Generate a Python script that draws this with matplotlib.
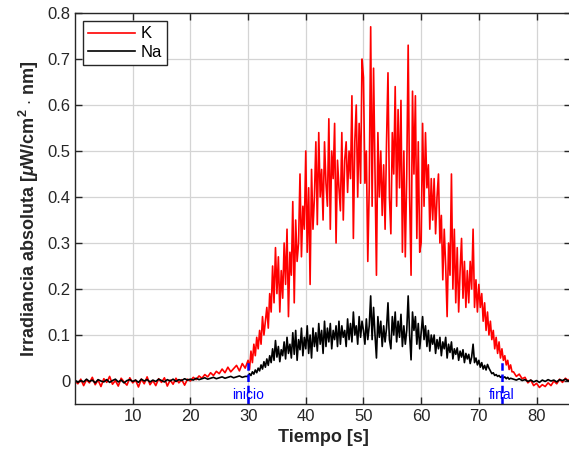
import matplotlib
matplotlib.use("Agg")
import matplotlib.pyplot as plt
import numpy as np

# tiempos de muestreo [s]: 0.5 s fuera del evento, 0.25 s durante el evento
t_pre = np.arange(0, 30, 0.5)
t_evt = np.arange(30, 76, 0.25)
t_post = np.arange(76, 86.01, 0.5)
tiempo = np.concatenate([t_pre, t_evt, t_post])

# irradiancia K [uW/cm^2 nm]
k_pre = [0.000, -0.006, 0.004, -0.010, 0.003, -0.004, 0.008, -0.008, 0.002, -0.012,
         0.005, -0.003, 0.010, -0.007, 0.001, -0.011, 0.006, -0.002, -0.009, 0.007,
         -0.004, 0.002, -0.013, 0.004, -0.006, 0.009, -0.008, 0.001, -0.010, 0.005,
         -0.003, 0.007, -0.011, 0.002, -0.007, 0.006, -0.004, 0.003, -0.009, 0.004,
         0.000, 0.008, 0.003, 0.011, 0.006, 0.014, 0.009, 0.018, 0.012, 0.021,
         0.016, 0.026, 0.018, 0.030, 0.020, 0.027, 0.034, 0.022, 0.038, 0.028]
k_evt = [0.045, 0.025, 0.065, 0.040, 0.080, 0.055, 0.095, 0.070,
         0.110, 0.080, 0.140, 0.100, 0.130, 0.160, 0.115, 0.190,
         0.150, 0.250, 0.170, 0.290, 0.190, 0.270, 0.150, 0.240,
         0.180, 0.300, 0.210, 0.330, 0.140, 0.280, 0.230, 0.390,
         0.170, 0.350, 0.260, 0.300, 0.450, 0.270, 0.380, 0.330,
         0.500, 0.280, 0.420, 0.210, 0.460, 0.330, 0.400, 0.520,
         0.340, 0.540, 0.400, 0.460, 0.350, 0.520, 0.430, 0.380,
         0.570, 0.330, 0.500, 0.440, 0.560, 0.300, 0.480, 0.420,
         0.370, 0.540, 0.350, 0.480, 0.520, 0.410, 0.500, 0.440,
         0.620, 0.310, 0.520, 0.600, 0.400, 0.560, 0.430, 0.700,
         0.660, 0.430, 0.500, 0.260, 0.420, 0.770, 0.380, 0.680,
         0.450, 0.230, 0.540, 0.400, 0.500, 0.360, 0.470, 0.330,
         0.520, 0.670, 0.400, 0.320, 0.540, 0.450, 0.640, 0.380,
         0.590, 0.420, 0.610, 0.280, 0.500, 0.270, 0.450, 0.730,
         0.400, 0.230, 0.630, 0.450, 0.620, 0.310, 0.520, 0.280,
         0.300, 0.560, 0.380, 0.540, 0.420, 0.470, 0.330, 0.440,
         0.350, 0.440, 0.320, 0.400, 0.450, 0.300, 0.360, 0.220,
         0.330, 0.250, 0.140, 0.300, 0.230, 0.450, 0.200, 0.330,
         0.170, 0.290, 0.150, 0.240, 0.310, 0.180, 0.260, 0.160,
         0.240, 0.170, 0.260, 0.200, 0.330, 0.160, 0.220, 0.150,
         0.210, 0.160, 0.190, 0.130, 0.170, 0.110, 0.150, 0.100,
         0.130, 0.090, 0.110, 0.070, 0.095, 0.060, 0.085, 0.050,
         0.070, 0.045, 0.055, 0.035, 0.045, 0.025, 0.035, 0.020]
k_post = [0.020, 0.010, 0.015, 0.005, 0.008, -0.004, 0.002, -0.010, -0.005, -0.014,
          -0.008, -0.012, -0.004, -0.010, 0.000, -0.006, 0.004, -0.003, 0.006, 0.001,
          0.008]

# irradiancia Na
na_pre = [0.002, -0.003, 0.001, -0.002, 0.004, -0.001, 0.002, -0.004, 0.003, 0.000,
          -0.002, 0.003, -0.003, 0.001, 0.004, -0.002, 0.002, -0.004, 0.001, 0.003,
          -0.001, 0.002, -0.003, 0.004, 0.000, 0.003, -0.002, 0.002, -0.001, 0.004,
          0.001, -0.002, 0.003, 0.000, 0.004, -0.001, 0.003, 0.001, 0.005, 0.002,
          0.004, 0.002, 0.006, 0.003, 0.005, 0.007, 0.004, 0.006, 0.008, 0.005,
          0.007, 0.009, 0.006, 0.008, 0.010, 0.007, 0.009, 0.011, 0.008, 0.010]
na_evt = [0.010, 0.016, 0.012, 0.020, 0.015, 0.024, 0.018, 0.028,
          0.022, 0.035, 0.026, 0.042, 0.030, 0.048, 0.034, 0.055,
          0.040, 0.070, 0.045, 0.088, 0.052, 0.075, 0.042, 0.068,
          0.055, 0.085, 0.048, 0.095, 0.060, 0.080, 0.050, 0.105,
          0.058, 0.110, 0.045, 0.090, 0.068, 0.115, 0.055, 0.095,
          0.070, 0.120, 0.060, 0.100, 0.050, 0.115, 0.075, 0.105,
          0.065, 0.125, 0.080, 0.110, 0.060, 0.130, 0.075, 0.115,
          0.085, 0.125, 0.070, 0.110, 0.090, 0.120, 0.075, 0.130,
          0.080, 0.120, 0.095, 0.110, 0.075, 0.135, 0.090, 0.125,
          0.085, 0.150, 0.100, 0.120, 0.080, 0.140, 0.095, 0.130,
          0.110, 0.080, 0.135, 0.090, 0.120, 0.185, 0.090, 0.160,
          0.100, 0.050, 0.140, 0.095, 0.130, 0.075, 0.120, 0.085,
          0.115, 0.170, 0.090, 0.070, 0.140, 0.100, 0.150, 0.085,
          0.130, 0.095, 0.145, 0.075, 0.120, 0.080, 0.110, 0.185,
          0.100, 0.046, 0.150, 0.110, 0.140, 0.080, 0.125, 0.070,
          0.105, 0.140, 0.090, 0.120, 0.075, 0.110, 0.065, 0.100,
          0.080, 0.100, 0.060, 0.090, 0.070, 0.095, 0.055, 0.085,
          0.070, 0.095, 0.050, 0.080, 0.062, 0.085, 0.048, 0.070,
          0.058, 0.072, 0.045, 0.065, 0.052, 0.068, 0.040, 0.060,
          0.048, 0.058, 0.038, 0.052, 0.080, 0.040, 0.050, 0.035,
          0.045, 0.030, 0.040, 0.026, 0.034, 0.024, 0.036, 0.028,
          0.022, 0.016, 0.018, 0.012, 0.014, 0.010, 0.012, 0.008,
          0.010, 0.007, 0.009, 0.005, 0.008, 0.004, 0.006, 0.005]
na_post = [0.004, 0.002, 0.005, 0.001, 0.003, -0.001, 0.002, -0.002, 0.001, -0.003,
           0.002, -0.001, 0.003, 0.000, 0.002, -0.002, 0.003, 0.001, 0.004, 0.000,
           0.002]

# marcas de inicio / final del evento
marcas_t = [30, 74]
marcas_txt = ["inicio", "final"]

irr_k = np.array(k_pre + k_evt + k_post)
irr_na = np.array(na_pre + na_evt + na_post)

plt.rcParams["font.family"] = ["Liberation Sans", "DejaVu Sans"]
plt.rcParams["mathtext.fontset"] = "custom"
plt.rcParams["mathtext.rm"] = "Liberation Sans:bold"
plt.rcParams["mathtext.it"] = "Liberation Sans:italic:bold"
plt.rcParams["mathtext.bf"] = "Liberation Sans:bold"

gris = "#262626"
fig = plt.figure(figsize=(5.69, 4.63), dpi=100)
ax = fig.add_axes([0.1318, 0.1274, 0.872, 0.8445])

ax.plot(tiempo, irr_k, color="#ff0000", lw=1.2, label="K")
ax.plot(tiempo, irr_na, color="black", lw=1.2, label="Na")

for tm, txt in zip(marcas_t, marcas_txt):
    ax.plot([tm, tm], [-0.05, 0.045], color="#0000ff", lw=1.8, ls=(0, (3, 1.5)))
    ax.text(tm, -0.03, txt, color="#0000ff", fontsize=10, ha="center", va="center")

ax.set_xlim(0, 86)
ax.set_ylim(-0.05, 0.8)
ax.set_xticks(np.arange(10, 81, 10))
ax.set_yticks(np.arange(0, 0.81, 0.1))
ax.set_yticklabels(["0", "0.1", "0.2", "0.3", "0.4", "0.5", "0.6", "0.7", "0.8"])
ax.grid(True, color="#d4d4d4", lw=0.9)
ax.set_axisbelow(True)
ax.tick_params(direction="in", top=True, right=True, labelsize=12, colors=gris,
               length=5, width=1)
for s in ax.spines.values():
    s.set_color(gris)
    s.set_linewidth(1.0)

ax.set_xlabel("Tiempo [s]", fontsize=13, fontweight="bold", color=gris, labelpad=4)
ax.set_ylabel(r"Irradiancia absoluta [$\mu$W/cm$^2$ $\cdot$ nm]", fontsize=13,
              fontweight="bold", color=gris, labelpad=4)

leg = ax.legend(loc="upper left", fontsize=12, handlelength=2.8, fancybox=False,
                edgecolor=gris, framealpha=1, borderaxespad=0.5,
                borderpad=0.3, labelspacing=0.2, handletextpad=0.35)
leg.get_frame().set_linewidth(1.0)

fig.savefig("out.png", dpi=100)
